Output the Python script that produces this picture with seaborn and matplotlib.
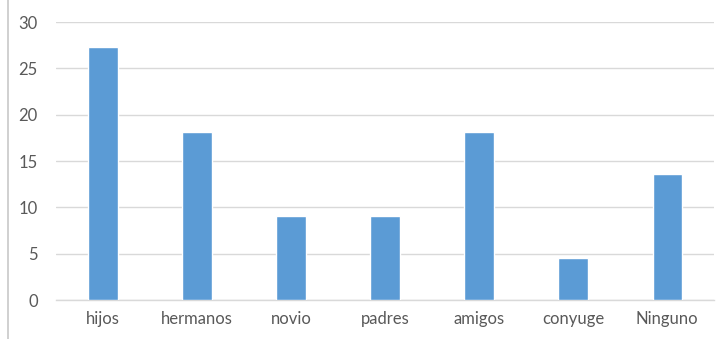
import matplotlib
matplotlib.use("Agg")
import matplotlib.pyplot as plt
from matplotlib.lines import Line2D
import seaborn as sns
import pandas as pd

categories = ["hijos", "hermanos", "novio", "padres", "amigos", "conyuge", "Ninguno"]
values = [27.27, 18.18, 9.09, 9.09, 18.18, 4.55, 13.64]
y_ticks = [0, 5, 10, 15, 20, 25, 30]

sns.set_theme(style="white")
plt.rcParams["font.family"] = ["Lato", "DejaVu Sans"]

df = pd.DataFrame({"categoria": categories, "valor": values})

fig = plt.figure(figsize=(7.24, 3.39), dpi=100)
ax = fig.add_axes([0.0773, 0.115, 0.909, 0.820])

sns.barplot(data=df, x="categoria", y="valor", color="#5B9BD5",
            saturation=1, width=0.31, ax=ax, zorder=3)

ax.set_ylim(0, 30)
ax.set_yticks(y_ticks)
ax.set_xlim(-0.5, len(categories) - 0.5)
ax.yaxis.grid(True, color="#d9d9d9", linewidth=1, zorder=0)
ax.set_axisbelow(True)
for s in ["top", "right", "left"]:
    ax.spines[s].set_visible(False)
ax.spines["bottom"].set_color("#d9d9d9")
ax.spines["bottom"].set_linewidth(1)
ax.set_xlabel("")
ax.set_ylabel("")
ax.tick_params(axis="both", length=0, labelsize=12, colors="#595959")
ax.tick_params(axis="y", pad=13)
ax.tick_params(axis="x", pad=8)

fig.add_artist(Line2D([7.5 / 724, 7.5 / 724], [0, 1], color="#c8c8c8",
                      linewidth=1.2, transform=fig.transFigure))

fig.savefig("out.png", dpi=100)
